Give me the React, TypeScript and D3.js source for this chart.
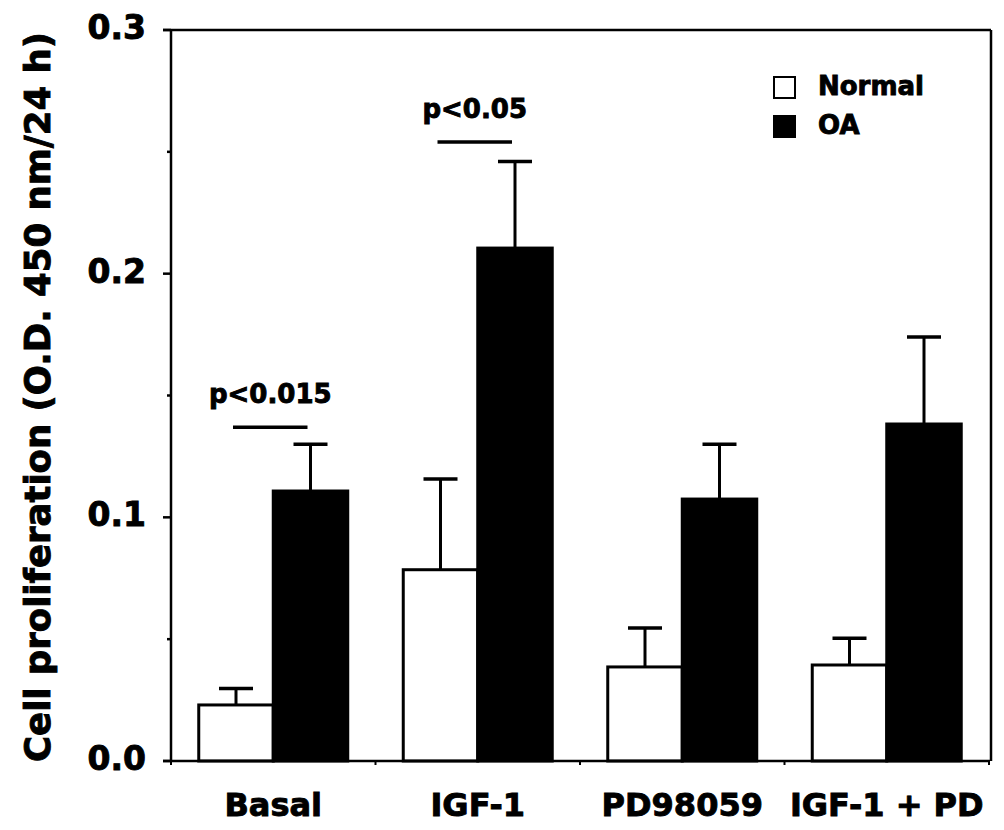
import React, { useEffect, useRef } from "react";
import * as d3 from "d3";

const categories = ["Basal", "IGF-1", "PD98059", "IGF-1 + PD"];
const seriesNames = ["Normal", "OA"];
const normalMeans = [0.023, 0.0785, 0.0386, 0.0394];
const normalErrors = [0.0068, 0.0372, 0.016, 0.011];
const oaMeans = [0.1108, 0.2105, 0.1075, 0.1383];
const oaErrors = [0.0192, 0.0355, 0.0225, 0.0357];
const yMajorTicks = [0, 0.1, 0.2, 0.3];
const yMinorTicks = [0.05, 0.15, 0.25];
const sigLabels = [
  { group: "Basal", label: "p<0.015", level: 0.137 },
  { group: "IGF-1", label: "p<0.05", level: 0.254 },
];

const FONT = "'DejaVu Sans', sans-serif";

const App = () => {
  const svgRef = useRef<SVGSVGElement>(null);

  useEffect(() => {
    const svg = d3.select(svgRef.current);
    svg.selectAll("*").remove();

    const left = 171;
    const right = 989;
    const top = 30;
    const bottom = 761;

    const y = d3.scaleLinear().domain([0, 0.3]).range([bottom, top]);
    const x = d3.scaleBand().domain(categories).range([left, right]).padding(0);
    const xs = d3
      .scaleBand()
      .domain(seriesNames)
      .range([0, x.bandwidth()])
      .paddingInner(0)
      .paddingOuter(0.3725);

    const rows = categories.map((c, i) => ({
      cat: c,
      values: [
        { s: "Normal", mean: normalMeans[i], err: normalErrors[i] },
        { s: "OA", mean: oaMeans[i], err: oaErrors[i] },
      ],
    }));

    const g = svg.append("g");

    // heavy bold text, the original uses a black-weight face
    const heavy = (t: any, size: number) =>
      t.attr("font-family", FONT)
        .attr("font-weight", "bold")
        .attr("font-size", size)
        .attr("stroke", "#000")
        .attr("stroke-width", 0.9);

    const groups = g
      .selectAll("g.grp")
      .data(rows)
      .enter()
      .append("g")
      .attr("class", "grp")
      .attr("transform", (d) => `translate(${x(d.cat)},0)`);

    // error bars (upper half only)
    groups.each(function (d) {
      const gg = d3.select(this);
      d.values.forEach((v) => {
        const cx = (xs(v.s) as number) + xs.bandwidth() / 2;
        gg.append("line")
          .attr("x1", cx)
          .attr("x2", cx)
          .attr("y1", y(v.mean))
          .attr("y2", y(v.mean + v.err))
          .attr("stroke", "#000")
          .attr("stroke-width", 3);
        gg.append("line")
          .attr("x1", cx - 17)
          .attr("x2", cx + 17)
          .attr("y1", y(v.mean + v.err))
          .attr("y2", y(v.mean + v.err))
          .attr("stroke", "#000")
          .attr("stroke-width", 3.5);
      });
    });

    groups
      .selectAll("rect")
      .data((d) => d.values)
      .enter()
      .append("rect")
      .attr("x", (v) => xs(v.s) as number)
      .attr("width", xs.bandwidth())
      .attr("y", (v) => y(v.mean))
      .attr("height", (v) => y(0) - y(v.mean))
      .attr("fill", (v) => (v.s === "OA" ? "#000" : "#fff"))
      .attr("stroke", "#000")
      .attr("stroke-width", 3);

    // frame / axes
    g.append("line")
      .attr("x1", left).attr("x2", left).attr("y1", top).attr("y2", bottom + 1)
      .attr("stroke", "#000").attr("stroke-width", 2.5);
    g.append("line")
      .attr("x1", left - 8).attr("x2", 991).attr("y1", top).attr("y2", top)
      .attr("stroke", "#000").attr("stroke-width", 2.5);
    g.append("line")
      .attr("x1", 991).attr("x2", 991).attr("y1", top).attr("y2", bottom)
      .attr("stroke", "#000").attr("stroke-width", 2.5);
    g.append("line")
      .attr("x1", left - 8).attr("x2", right + 1).attr("y1", bottom).attr("y2", bottom)
      .attr("stroke", "#000").attr("stroke-width", 2.5);

    // y ticks
    g.selectAll("line.ymaj")
      .data(yMajorTicks)
      .enter()
      .append("line")
      .attr("x1", left - 8).attr("x2", left)
      .attr("y1", (d) => y(d)).attr("y2", (d) => y(d))
      .attr("stroke", "#000").attr("stroke-width", 2.5);
    g.selectAll("line.ymin")
      .data(yMinorTicks)
      .enter()
      .append("line")
      .attr("x1", left - 4).attr("x2", left)
      .attr("y1", (d) => y(d)).attr("y2", (d) => y(d))
      .attr("stroke", "#000").attr("stroke-width", 2.5);
    heavy(
      g.selectAll("text.ylab")
        .data(yMajorTicks)
        .enter()
        .append("text")
        .attr("x", left - 25)
        .attr("y", (d) => y(d) + 9)
        .attr("text-anchor", "end"),
      33
    ).text((d) => d3.format(".1f")(d));

    // x ticks at group boundaries
    const bounds = [...categories.map((c) => x(c) as number), right];
    g.selectAll("line.xt")
      .data(bounds)
      .enter()
      .append("line")
      .attr("x1", (d) => d).attr("x2", (d) => d)
      .attr("y1", bottom).attr("y2", bottom + 4)
      .attr("stroke", "#000").attr("stroke-width", 2);

    heavy(
      g.selectAll("text.xlab")
        .data(categories)
        .enter()
        .append("text")
        .attr("x", (d) => (x(d) as number) + x.bandwidth() / 2)
        .attr("y", 816)
        .attr("text-anchor", "middle"),
      32
    ).text((d) => d);

    // y title
    heavy(
      g.append("text")
        .attr("transform", `translate(50,${(bottom + 33) / 2}) rotate(-90)`)
        .attr("text-anchor", "middle"),
      35.5
    ).text("Cell proliferation (O.D. 450 nm/24 h)");

    // significance
    sigLabels.forEach((s) => {
      const x0 = (x(s.group) as number) + (xs("Normal") as number) + xs.bandwidth() / 2 - 3;
      const x1 = (x(s.group) as number) + (xs("OA") as number) + xs.bandwidth() / 2 - 3;
      g.append("line")
        .attr("x1", x0).attr("x2", x1)
        .attr("y1", y(s.level)).attr("y2", y(s.level))
        .attr("stroke", "#000").attr("stroke-width", 3.5);
      heavy(
        g.append("text")
          .attr("x", (x0 + x1) / 2)
          .attr("y", y(s.level) - 24)
          .attr("text-anchor", "middle"),
        26
      ).text(s.label);
    });

    // legend
    const legend = g.append("g").attr("transform", "translate(774,77)");
    seriesNames.forEach((s, i) => {
      legend.append("rect")
        .attr("x", 0).attr("y", i * 39)
        .attr("width", 21).attr("height", 21)
        .attr("fill", s === "OA" ? "#000" : "#fff")
        .attr("stroke", "#000").attr("stroke-width", 2);
      heavy(
        legend.append("text").attr("x", 44).attr("y", i * 39 + 18),
        26
      ).text(s);
    });
  }, []);

  return (
    <svg
      ref={svgRef}
      width={1004}
      height={830}
      style={{ position: "absolute", left: 0, top: 0, background: "#fff" }}
    />
  );
};

export default App;
